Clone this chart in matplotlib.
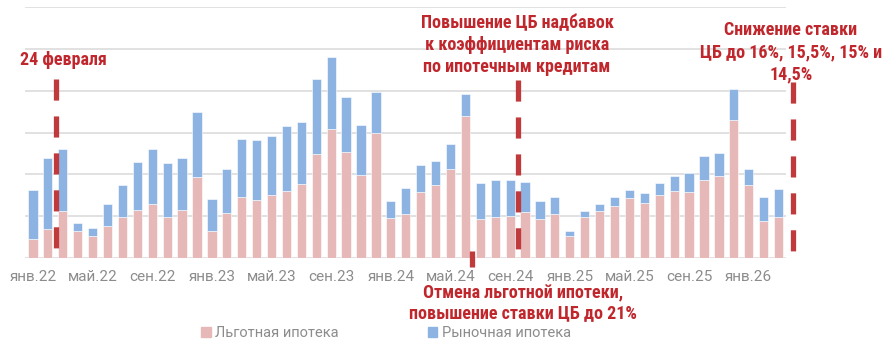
import matplotlib
matplotlib.use('Agg')
import matplotlib.pyplot as plt
from matplotlib import font_manager
from matplotlib.patches import Patch

# Ипотечные выдачи по месяцам, янв.22 - мар.26
lgot = [0.46, 0.69, 1.12, 0.64, 0.53, 0.77, 0.97, 1.14, 1.28, 0.97, 1.14, 1.94, 0.63,
        1.06, 1.45, 1.38, 1.50, 1.61, 1.77, 2.48, 3.08, 2.54, 1.97, 2.99, 0.94, 1.05,
        1.58, 1.74, 2.13, 3.40, 0.92, 0.98, 0.99, 1.09, 0.93, 1.04, 0.53, 0.98, 1.12,
        1.24, 1.43, 1.31, 1.50, 1.60, 1.57, 1.85, 1.96, 3.30, 1.74, 0.88, 0.98]
market = [1.16, 1.69, 1.49, 0.18, 0.17, 0.52, 0.77, 1.16, 1.33, 1.29, 1.24, 1.56, 0.78,
          1.06, 1.40, 1.45, 1.42, 1.55, 1.49, 1.80, 1.72, 1.32, 1.21, 0.99, 0.42, 0.61,
          0.65, 0.58, 0.59, 0.53, 0.86, 0.88, 0.87, 0.73, 0.44, 0.42, 0.10, 0.15, 0.16,
          0.21, 0.19, 0.23, 0.28, 0.35, 0.45, 0.59, 0.54, 0.75, 0.38, 0.57, 0.67]

month_names = ['янв', 'фев', 'мар', 'апр', 'май', 'июн',
               'июл', 'авг', 'сен', 'окт', 'ноя', 'дек']
labels = ['%s.%d' % (month_names[i % 12], 22 + i // 12) for i in range(len(lgot))]

# события (позиция по оси x)
ev_feb = 1.54
ev_cancel = 29.47
ev_risk = 32.5
ev_rate = 50.94

PINK = '#E6B9B8'
BLUE = '#8DB3E2'
RED_TXT = '#C0272D'
RED_LINE = '#C0393B'
GRAY = '#8C8C8C'

names = {f.name for f in font_manager.fontManager.ttflist}
cond = next((n for n in ['Roboto Condensed', 'Liberation Sans Narrow'] if n in names), 'Roboto')
cond_size = 13 if cond != 'Roboto' else 11.5

plt.rcParams['font.family'] = ['Roboto', 'DejaVu Sans']

W, H = 887, 339
fig = plt.figure(figsize=(W / 100, H / 100), dpi=100)
ax = fig.add_axes([25.5 / W, 1 - 257.7 / H, (786 - 25.5) / W, (257.7 - 7.3) / H])

x = list(range(len(lgot)))
ax.bar(x, lgot, width=0.62, color=PINK, edgecolor='white', linewidth=0.4, zorder=3)
ax.bar(x, market, bottom=lgot, width=0.62, color=BLUE, edgecolor='white', linewidth=0.4, zorder=3)

ax.set_xlim(-0.5, 50.5)
ax.set_ylim(0, 6)
ax.set_yticks(range(0, 7))
ax.yaxis.grid(True, color='#D9D9D9', linewidth=1.1, zorder=0)
ax.tick_params(axis='y', left=False, labelleft=False)
ax.set_xticks(x[::4])
ax.set_xticklabels(labels[::4], color=GRAY, fontsize=11)
ax.tick_params(axis='x', length=0, pad=9)
for s in ax.spines.values():
    s.set_visible(False)

# вертикальные пунктирные линии событий
def vline(xpos, y0, y1):
    ax.plot([xpos, xpos], [y0, y1], color=RED_LINE, linewidth=3.8,
            dashes=(4, 3), dash_capstyle='butt', clip_on=False, zorder=4)

vline(ev_feb, 4.29, 0.21)
vline(ev_risk, 4.25, 0.17)
vline(ev_rate, 4.2, 0.11)
ax.plot([ev_cancel, ev_cancel], [0.16, -0.22], color=RED_LINE, linewidth=3.8,
        solid_capstyle='butt', clip_on=False, zorder=4)

def ftxt(px, py, s, ls=1.3, **kw):
    fig.text(px / W, 1 - py / H, s, color=RED_TXT, fontweight='bold',
             family=[cond, 'DejaVu Sans'], fontsize=cond_size,
             va='center', linespacing=ls, **kw)

ftxt(20, 60, '24 февраля', ha='left')
ftxt(517, 45, 'Повышение ЦБ надбавок\nк коэффициентам риска\nпо ипотечным кредитам', ha='center')
ftxt(791, 52, 'Снижение ставки\nЦБ до 16%, 15,5%, 15% и\n14,5%', ha='center')
ftxt(523, 303, 'Отмена льготной ипотеки,\nповышение ставки ЦБ до 21%', ls=1.15, ha='center')

handles = [Patch(color=PINK, label='Льготная ипотека'),
           Patch(color=BLUE, label='Рыночная ипотека')]
fig.legend(handles=handles, loc='center', bbox_to_anchor=(386 / W, 1 - 333 / H),
           ncol=2, frameon=False, fontsize=10.5, labelcolor=GRAY,
           handlelength=0.65, handleheight=0.65, handletextpad=0.3, columnspacing=6.1)

fig.savefig('out.png', dpi=100)
